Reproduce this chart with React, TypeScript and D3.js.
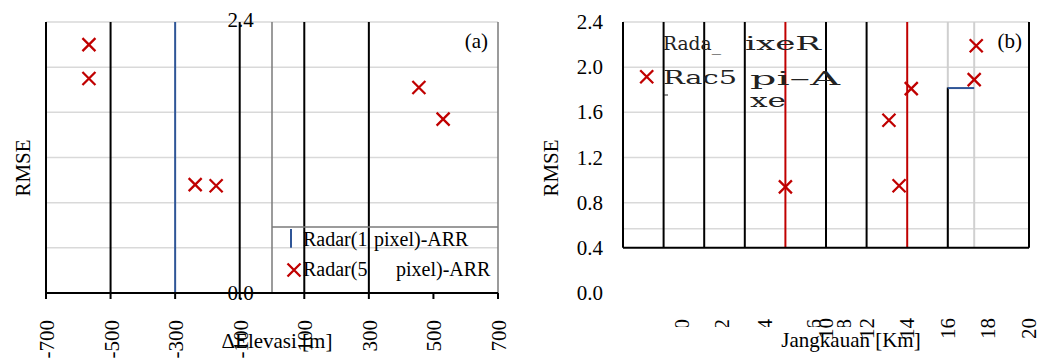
import React from 'react';
import * as d3 from 'd3';

// panel (a): RMSE vs elevation difference
const elevX = [-567, -567, -238, -173, 455, 530];
const elevY = [2.2, 1.9, 0.96, 0.95, 1.82, 1.54];
const elevTicks = [-700, -500, -300, -100, 100, 300, 500, 700];
const elevBlack = [-500, -100, 100, 300];
const elevBlue = -300;
const elevLegendEdge = 0;

// panel (b): RMSE vs range
const rangeX = [17.4, 17.3, 14.2, 13.1, 8.0, 13.6];
const rangeY = [2.19, 1.89, 1.81, 1.53, 0.94, 0.95];
const rangeTicks = [10, 12, 14, 16, 18, 20];
const rangeLowLabels = ['0', '2', '4', '6', '8'];
const rangeLowPos = [2.9, 4.9, 7.0, 9.4, 10.9];
const rangeBlack = [2, 4, 6, 10, 12];
const rangeRed = [8, 14];
const rangeGray = 17.3;
const rmseTicksB = [0.0, 0.4, 0.8, 1.2, 1.6, 2.0, 2.4];
const gridA = [0.4, 0.8, 1.2, 1.6, 2.0, 2.4];
const gridB = [0.57, 0.8, 1.2, 1.6, 2.0, 2.4];

const RED = '#c00000';
const BLUE = '#2f5597';
const GRID = '#d9d9d9';
const SERIF = "'Liberation Serif', 'Times New Roman', serif";

const y = d3.scaleLinear().domain([0, 2.4]).range([293, 22]);
const xA = d3.scaleLinear().domain([-700, 700]).range([46, 498]);
const xB = d3.scaleLinear().domain([0, 20]).range([623, 1029]);

const Cross = ({cx, cy}: {cx: number; cy: number}) => {
  const s = 6.5;
  return (
    <path d={`M${cx - s},${cy - s}L${cx + s},${cy + s}M${cx - s},${cy + s}L${cx + s},${cy - s}`}
          stroke={RED} strokeWidth={2.3} fill="none"/>
  );
};

const T = (p: any) => {
  const {fs, children, ...rest} = p;
  return <text {...rest} style={{fontFamily: SERIF, fontSize: fs ?? 21}}>{children}</text>;
};

// the broken legend of panel (b), stretched like in the source
const W = (p: any) => {
  const {children, ...rest} = p;
  return (
    <text {...rest} lengthAdjust="spacingAndGlyphs" fill="#222"
          style={{fontFamily: "'DejaVu Serif', serif", fontSize: 18}}>{children}</text>
  );
};

export default function App() {
  const legTop = y(0.585);
  return (
    <svg width={1040} height={360} style={{position: 'fixed', left: 0, top: 0, background: '#fff'}}>
      <defs>
        <clipPath id="lowclip"><rect x={600} y={300} width={260} height={27}/></clipPath>
      </defs>

      {/* ---------- panel (a) ---------- */}
      {gridA.map(v => (
        <line key={'ga' + v} x1={xA(-700)} x2={xA(700)} y1={y(v)} y2={y(v)} stroke={GRID} strokeWidth={1.5}/>
      ))}
      {elevBlack.map(v => (
        <line key={'ba' + v} x1={xA(v)} x2={xA(v)} y1={y(2.4)} y2={y(0)} stroke="#000" strokeWidth={2}/>
      ))}
      <line x1={xA(elevBlue)} x2={xA(elevBlue)} y1={y(2.4)} y2={y(0)} stroke={BLUE} strokeWidth={2}/>
      <line x1={xA(elevLegendEdge)} x2={xA(elevLegendEdge)} y1={y(2.4)} y2={y(0)} stroke="#7a7a7a" strokeWidth={1.5}/>
      <line x1={xA(elevLegendEdge)} x2={xA(700)} y1={legTop} y2={legTop} stroke="#7a7a7a" strokeWidth={1.5}/>
      <line x1={xA(700)} x2={xA(700)} y1={y(2.4)} y2={y(0)} stroke="#7a7a7a" strokeWidth={1.5}/>
      <line x1={xA(-700)} x2={xA(-700)} y1={y(2.4)} y2={y(0)} stroke="#000" strokeWidth={2}/>
      <line x1={xA(-700)} x2={xA(700)} y1={y(0)} y2={y(0)} stroke="#000" strokeWidth={2}/>
      {elevTicks.map(t => (
        <g key={'ta' + t}>
          <line x1={xA(t)} x2={xA(t)} y1={y(0)} y2={y(0) + 6} stroke="#000" strokeWidth={2}/>
          <T transform={`translate(${xA(t) + 1},320) rotate(-90)`} textAnchor="end"
             dominantBaseline="central">{t < 0 ? '-' + Math.abs(t) : t}</T>
        </g>
      ))}
      <T x={xA(-100) + 1} y={y(2.4) - 2} textAnchor="middle" dominantBaseline="central">2.4</T>
      <T x={xA(-100) + 1} y={y(0)} textAnchor="middle" dominantBaseline="central">0.0</T>
      {elevX.map((v, i) => <Cross key={'pa' + i} cx={xA(v)} cy={y(elevY[i])}/>)}
      <line x1={291} x2={291} y1={legTop + 2} y2={y(0.4)} stroke={BLUE} strokeWidth={2}/>
      <T x={303} y={246} fs={20}>Radar(1</T>
      <T x={374} y={246} fs={20}>pixel)-ARR</T>
      <Cross cx={294} cy={270}/>
      <T x={303} y={276} fs={20}>Radar(5</T>
      <T x={396} y={276} fs={20}>pixel)-ARR</T>
      <T x={488} y={48} textAnchor="end">(a)</T>
      <T transform="translate(30,168) rotate(-90)" textAnchor="middle">RMSE</T>
      <T x={277} y={348} textAnchor="middle">ΔElevasi [m]</T>

      {/* ---------- panel (b) ---------- */}
      {gridB.map(v => (
        <line key={'gb' + v} x1={xB(0)} x2={xB(20)} y1={y(v)} y2={y(v)} stroke={GRID} strokeWidth={1.5}/>
      ))}
      <line x1={xB(rangeGray)} x2={xB(rangeGray)} y1={y(2.4)} y2={y(0.4)} stroke="#d0d0d0" strokeWidth={2}/>
      <line x1={xB(16)} x2={xB(16)} y1={y(2.4)} y2={y(0.4)} stroke="#cfcfcf" strokeWidth={2}/>
      <line x1={xB(16)} x2={xB(16)} y1={y(1.82)} y2={y(0.4)} stroke="#000" strokeWidth={2}/>
      {rangeBlack.map(v => (
        <line key={'bb' + v} x1={xB(v)} x2={xB(v)} y1={y(2.4)} y2={y(0.4)} stroke="#000" strokeWidth={2}/>
      ))}
      {rangeRed.map(v => (
        <line key={'rb' + v} x1={xB(v)} x2={xB(v)} y1={y(2.4)} y2={y(0.4)} stroke={RED} strokeWidth={2}/>
      ))}
      <line x1={xB(16)} x2={xB(rangeGray)} y1={y(1.815)} y2={y(1.815)} stroke={BLUE} strokeWidth={2}/>
      <line x1={xB(0)} x2={xB(0)} y1={y(2.4)} y2={y(0.4)} stroke="#000" strokeWidth={2}/>
      <line x1={xB(20)} x2={xB(20)} y1={y(2.4)} y2={y(0.4)} stroke="#000" strokeWidth={2}/>
      <line x1={xB(0)} x2={xB(20)} y1={y(0.4)} y2={y(0.4)} stroke="#000" strokeWidth={2}/>
      {rmseTicksB.map(v => (
        <T key={'yb' + v} x={603} y={y(v)} textAnchor="end" dominantBaseline="central">
          {v.toFixed(1)}
        </T>
      ))}
      {rangeTicks.map(t => (
        <T key={'tb' + t} transform={`translate(${xB(t)},318) rotate(-90)`} textAnchor="end"
           dominantBaseline="central">{t}</T>
      ))}
      <g clipPath="url(#lowclip)">
        {rangeLowLabels.map((l, i) => (
          <T key={'lb' + l} transform={`translate(${xB(rangeLowPos[i])},319) rotate(-90)`} textAnchor="end"
             dominantBaseline="central">{l}</T>
        ))}
      </g>
      {rangeX.map((v, i) => <Cross key={'pb' + i} cx={xB(v)} cy={y(rangeY[i])}/>)}
      <Cross cx={646.7} cy={76.7}/>
      <W x={663} y={50} textLength={58}>Rada_</W>
      <W x={745} y={50} textLength={76}>ixeR</W>
      <W x={663} y={84} textLength={74}>Rac5</W>
      <W x={750} y={85} textLength={90}>pi–A</W>
      <W x={750} y={107} textLength={36}>xe</W>
      <line x1={664} x2={668} y1={95} y2={95} stroke="#222" strokeWidth={1}/>
      <T x={1022} y={48} textAnchor="end">(b)</T>
      <T transform="translate(558,168) rotate(-90)" textAnchor="middle">RMSE</T>
      <T x={851} y={347} textAnchor="middle">Jangkauan [Km]</T>
    </svg>
  );
}
